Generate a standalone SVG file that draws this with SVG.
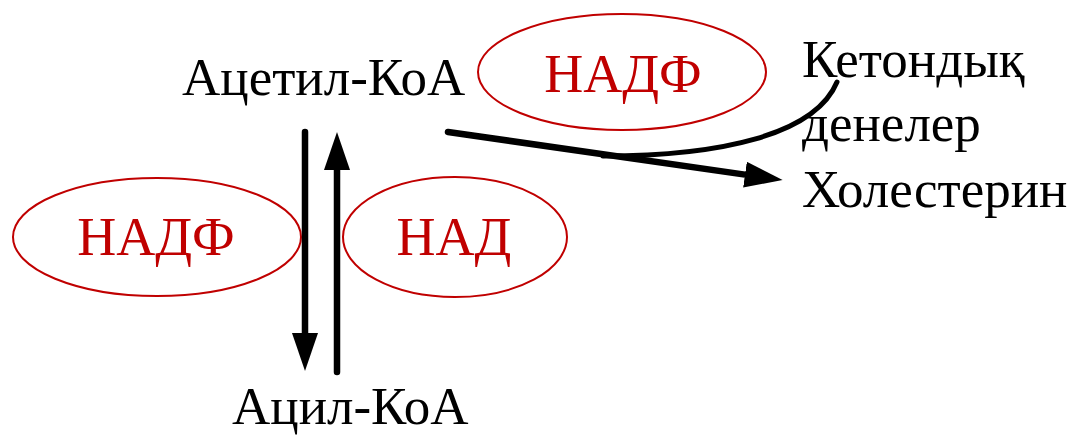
<svg xmlns="http://www.w3.org/2000/svg" width="1074" height="435" viewBox="0 0 1074 435">
<style>
.lbl{font-family:"Liberation Serif","Times New Roman",serif;font-size:53px;fill:#000}
.cof{font-family:"Liberation Serif","Times New Roman",serif;font-size:54px;fill:#c00000;text-anchor:middle}
.ell{fill:none;stroke:#c00000;stroke-width:2}
.con{fill:none;stroke:#000;stroke-width:6.5;stroke-linecap:round}
</style>
<defs>
<marker id="ah" markerUnits="userSpaceOnUse" markerWidth="40" markerHeight="28" refX="0" refY="13" orient="auto" viewBox="0 0 40 26">
<path d="M0,0 L38,13 L0,26 z" fill="#000"/>
</marker>
</defs>
<g id="n-acetyl"><text class="lbl" x="182" y="95">Ацетил-КоА</text></g>
<g id="n-acyl"><text class="lbl" x="232" y="424">Ацил-КоА</text></g>
<g id="n-products">
<text class="lbl" x="802" y="77">Кетондық</text>
<text class="lbl" x="802" y="141">денелер</text>
<text class="lbl" x="802" y="207">Холестерин</text>
</g>
<g id="n-nadf-top"><ellipse class="ell" cx="622" cy="72" rx="144" ry="58"/><text class="cof" x="623" y="92">НАДФ</text></g>
<g id="n-nadf-left"><ellipse class="ell" cx="157" cy="237" rx="144" ry="59"/><text class="cof" x="156" y="255">НАДФ</text></g>
<g id="n-nad"><ellipse class="ell" cx="455" cy="237" rx="112" ry="60"/><text class="cof" x="454" y="255">НАД</text></g>
<g id="connectors">
<path class="con" d="M305,132 L305,333" marker-end="url(#ah)"/>
<path class="con" d="M337,372 L337,170" marker-end="url(#ah)"/>
<path class="con" d="M448,132 L745,174.6" marker-end="url(#ah)"/>
<path class="con" d="M603,156 C720,156 815,135 837,82" style="stroke-width:5"/>
</g>
</svg>
